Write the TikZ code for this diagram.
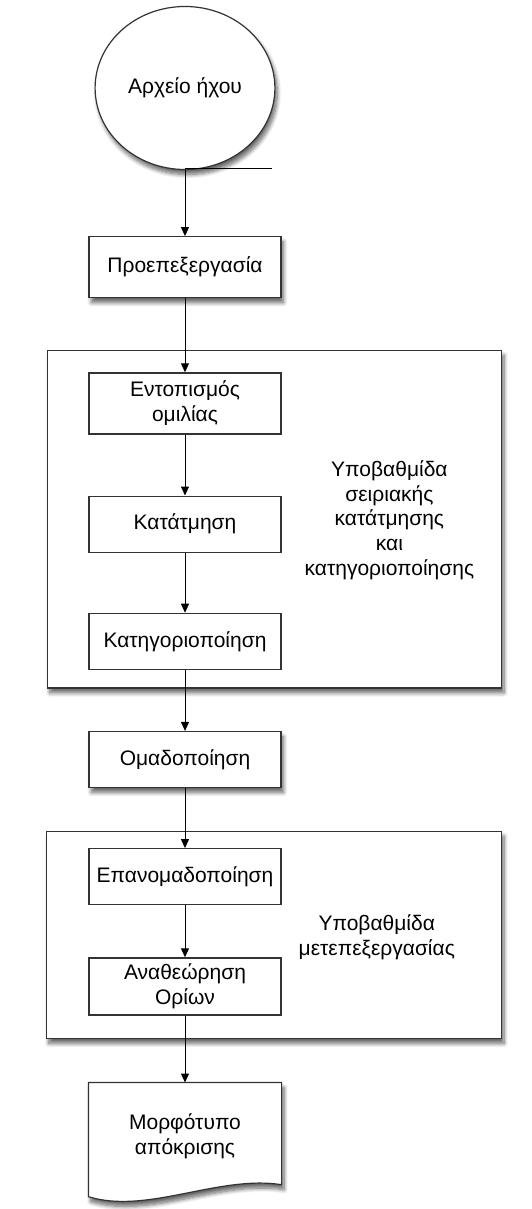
\documentclass[tikz,border=0pt]{standalone}
\usepackage{fontspec}
\setmainfont{Liberation Sans}
\usetikzlibrary{arrows, arrows.meta, positioning, shapes.geometric, shadows.blur, calc, backgrounds, fit}

\tikzset{
  soft/.style={blur shadow={shadow xshift=1.2pt, shadow yshift=-2.5pt, shadow blur radius=2pt, shadow blur steps=8, shadow opacity=60}},
  stage/.style={draw=black!80, line width=0.6pt, fill=white, minimum width=96pt, minimum height=28pt, align=center, inner sep=2pt},
  group/.style={draw=black!80, line width=0.6pt, fill=white, inner sep=0pt, soft},
  note/.style={align=center},
  tip/.style={->, >={Triangle[length=4.5pt,width=4pt]}, line width=0.5pt},
}

\begin{document}
\begin{tikzpicture}[node distance=30pt, font=\fontsize{10.5}{12.3}\selectfont]
\useasboundingbox (0,0) rectangle (265.5pt,-604.5pt);

\node[ellipse, draw=black!80, line width=0.6pt, fill=white, minimum width=87pt, minimum height=81.5pt, soft] (src) at (92.5pt,-44pt) {Αρχείο ήχου};
\node (pre) [stage, soft, minimum height=30.5pt, below=33pt of src] {Προεπεξεργασία};
\node (detect) [stage, minimum height=30.5pt, below=37pt of pre] {Εντοπισμός\\ομιλίας};
\node (cut) [stage, below=30.5pt of detect] {Κατάτμηση};
\node (classify) [stage, below=30pt of cut] {Κατηγοριοποίηση};
\node (cluster) [stage, soft, below=30.5pt of classify] {Ομαδοποίηση};
\node (relabel) [stage, below=30pt of cluster] {Επανομαδοποίηση};
\node (revise) [stage, minimum height=28.5pt, below=26pt of relabel] {Αναθεώρηση\\Ορίων};
\node (out) [stage, draw=none, fill=none, minimum height=53pt, below=33.5pt of revise] {Μορφότυπο\\απόκρισης};

\node (lab1) [note, right=8pt of cut, yshift=2pt] {Υποβαθμίδα\\σειριακής\\κατάτμησης\\και\\κατηγοριοποίησης};
\coordinate (mid2) at ($(relabel.east)!0.5!(revise.east)$);
\node (lab2) [note, right=5pt of mid2, yshift=-3pt] {Υποβαθμίδα\\μετεπεξεργασίας};

% sub-stage frames
\coordinate (g1a) at ([shift={(-20.5pt,11pt)}]detect.north west);
\coordinate (g1b) at ([shift={(110pt,-9pt)}]classify.south east);
\coordinate (g2a) at ([shift={(-21pt,8.5pt)}]relabel.north west);
\coordinate (g2b) at ([shift={(110pt,-11.5pt)}]revise.south east);
\coordinate (tail) at ([xshift=43.5pt,yshift=1pt]src.south);

\begin{scope}[on background layer]
\node[group, fit=(g1a)(g1b)] (sub1) {};
\node[group, fit=(g2a)(g2b)] (sub2) {};
\draw[draw=black!80, line width=0.6pt, fill=white, soft] (out.north west) -- (out.north east) -- ([yshift=2.5pt]out.south east)
  .. controls ([shift={(-31.5pt,7.5pt)}]out.south east) and ([shift={(29.5pt,-12.5pt)}]out.south west) .. ([yshift=-3.5pt]out.south west) -- cycle;
\end{scope}

\draw[line width=0.5pt] ([yshift=1pt]src.south) -- (tail);

\path[tip] (src) edge (pre);
\path[tip] (pre) edge (detect);
\path[tip] (detect) edge (cut);
\path[tip] (cut) edge (classify);
\path[tip] (classify) edge (cluster);
\path[tip] (cluster) edge (relabel);
\path[tip] (relabel) edge (revise);
\path[tip] (revise) edge (out);
\end{tikzpicture}
\end{document}
